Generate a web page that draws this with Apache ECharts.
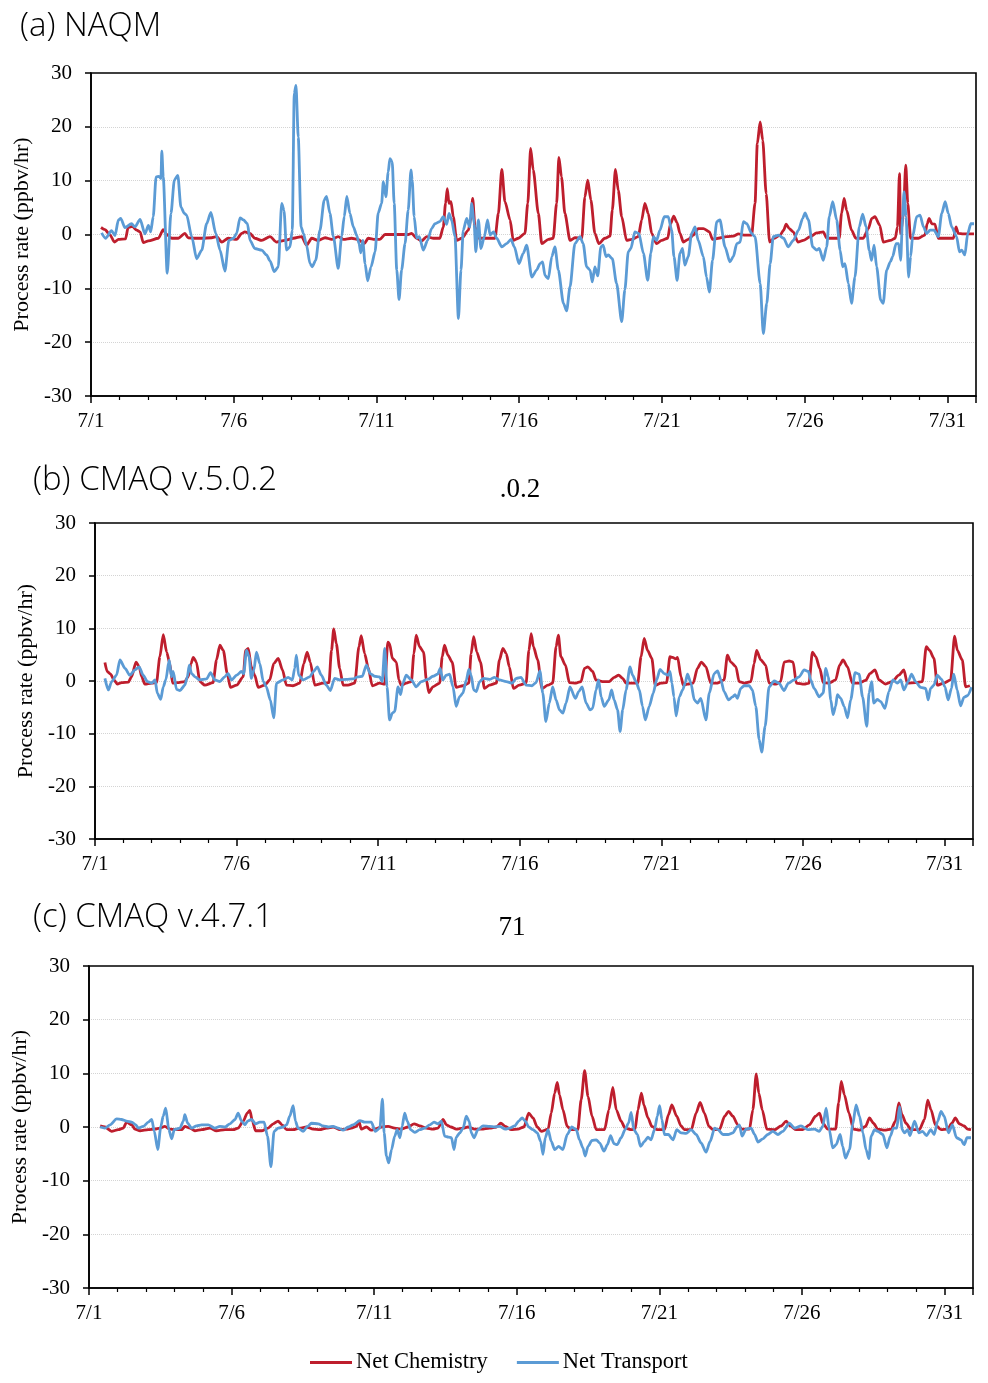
<!DOCTYPE html>
<html>
<head>
<meta charset="utf-8">
<script src="https://cdn.jsdelivr.net/npm/echarts@6/dist/echarts.min.js"></script>
<style>
html,body{margin:0;padding:0;background:#fff;}
#chart{width:988px;height:1383px;}
</style>
</head>
<body>
<div id="chart"></div>
<script>
// x values are days since 7/1 00:00
var xTickDays = [0, 5, 10, 15, 20, 25, 30];
var xTickLabels = ['7/1', '7/6', '7/11', '7/16', '7/21', '7/26', '7/31'];
var yTicks = [-30, -20, -10, 0, 10, 20, 30];
var panelTitles = ['(a) NAQM', '(b) CMAQ v.5.0.2', '(c) CMAQ v.4.7.1'];
var strayTexts = ['.0.2', '71'];
var seriesNames = ['Net Chemistry', 'Net Transport'];
var yAxisTitle = 'Process rate (ppbv/hr)';

var naqmChem = [[0.35,1.3],[0.49,0.9],[0.67,-0.1],[0.82,-1.4],[0.96,-0.9],[1.21,-0.8],[1.30,1.3],[1.45,1.5],[1.60,0.8],[1.72,0.5],[1.83,-1.5],[2.01,-1.2],[2.36,-0.7],[2.53,0.9],[2.65,0],[2.83,-0.7],[3.06,-0.7],[3.29,0.2],[3.40,-0.6],[3.64,-0.7],[3.88,-0.7],[4.23,-0.6],[4.40,-0.4],[4.58,-1.4],[4.81,-0.7],[5.10,-0.9],[5.28,0.2],[5.39,0.5],[5.57,0.2],[5.74,-0.7],[5.98,-1.1],[6.27,-0.4],[6.50,-1.4],[6.79,-1.1],[7.09,-0.7],[7.38,-0.4],[7.55,-2.0],[7.73,-0.7],[7.96,-1.1],[8.20,-0.6],[8.43,-0.9],[8.66,-0.4],[8.84,-0.9],[9.13,-0.7],[9.36,-0.9],[9.57,-1.7],[9.71,-0.7],[9.95,-0.9],[10.12,-0.9],[10.30,0],[11.11,0],[11.23,0.2],[11.41,-0.7],[11.58,-1.2],[11.76,-0.4],[12.00,-0.7],[12.22,-0.7],[12.34,1.4],[12.42,5.8],[12.48,8.5],[12.54,5.8],[12.61,6.1],[12.69,3.3],[12.81,-1.1],[12.99,-0.7],[13.22,0.8],[13.30,2.7],[13.37,6.7],[13.45,1.4],[13.59,-0.7],[13.80,-0.7],[14.15,-0.7],[14.27,3.9],[14.39,12.1],[14.50,6.1],[14.68,2.7],[14.79,-1.1],[14.97,-0.7],[15.20,0.2],[15.30,5.8],[15.40,16.0],[15.49,12.0],[15.67,3.9],[15.79,-1.7],[16.02,-0.9],[16.19,-0.7],[16.31,5.8],[16.39,14.3],[16.48,10.7],[16.60,3.9],[16.78,-1.1],[16.95,-0.6],[17.19,-0.7],[17.30,7.0],[17.40,10.1],[17.51,6.4],[17.65,0.2],[17.79,-1.7],[18.00,-0.7],[18.18,-0.3],[18.26,4.5],[18.37,12.1],[18.47,8.2],[18.59,3.3],[18.76,-1.1],[18.94,-0.9],[19.17,-0.4],[19.29,2.7],[19.40,5.8],[19.52,3.9],[19.64,0.2],[19.81,-1.7],[19.99,-1.1],[20.20,-0.7],[20.30,2.0],[20.41,3.4],[20.53,2.2],[20.63,0.2],[20.75,-1.4],[20.92,-0.9],[21.10,-0.1],[21.27,1.1],[21.45,1.1],[21.66,0.5],[21.77,-0.9],[21.97,-0.7],[22.27,-0.4],[22.50,-0.3],[22.68,0.1],[22.87,-0.1],[23.14,-0.1],[23.26,5.8],[23.34,16.9],[23.44,20.9],[23.53,17.5],[23.65,7.6],[23.77,-1.4],[23.93,-0.7],[24.14,-0.1],[24.26,0.8],[24.35,1.9],[24.46,1.1],[24.60,0.5],[24.76,-1.4],[24.95,-1.1],[25.19,-0.4],[25.42,0.3],[25.65,0.5],[25.77,-0.7],[26.00,-0.7],[26.21,-0.7],[26.29,3.9],[26.38,6.7],[26.47,4.5],[26.64,0.8],[26.79,-0.7],[27.05,-0.7],[27.23,1.1],[27.35,3.0],[27.46,3.3],[27.63,1.7],[27.75,-1.4],[28.00,-1.1],[28.17,-0.7],[28.25,1.4],[28.32,11.3],[28.36,0.2],[28.45,3.3],[28.54,12.9],[28.61,5.8],[28.71,-0.7],[28.98,-0.7],[29.21,-0.1],[29.29,2.0],[29.36,3.0],[29.45,2.0],[29.56,1.9],[29.68,-0.7],[29.97,-0.7],[30.21,-0.7],[30.30,1.4],[30.38,0.2],[30.55,0.1],[30.93,0.1]];

var naqmTrans = [[0.37,0.3],[0.51,-0.7],[0.72,0.7],[0.84,-0.2],[0.96,2.7],[1.04,3.0],[1.19,1.3],[1.42,2.0],[1.54,1.4],[1.72,2.8],[1.89,0.1],[2.01,1.7],[2.09,0.5],[2.18,3.3],[2.28,10.7],[2.38,10.8],[2.45,10.4],[2.48,15.5],[2.53,10.7],[2.67,-7.2],[2.80,3.9],[2.92,10.1],[3.04,11.0],[3.15,5.1],[3.27,3.9],[3.35,3.6],[3.53,-0.4],[3.70,-4.5],[3.88,-2.9],[4.05,2.0],[4.20,4.1],[4.37,0.2],[4.52,-2.9],[4.69,-6.8],[4.83,-1.1],[4.99,-0.7],[5.10,0.2],[5.22,3.1],[5.34,2.7],[5.48,2.0],[5.57,-1.1],[5.74,-2.6],[5.98,-2.9],[6.15,-3.8],[6.27,-4.9],[6.42,-6.9],[6.56,-6.0],[6.68,5.8],[6.76,4.5],[6.85,-2.9],[6.97,-2.3],[7.05,0.8],[7.12,26.2],[7.18,27.7],[7.26,18.1],[7.36,1.4],[7.44,0.2],[7.55,-2.0],[7.67,-5.4],[7.75,-6.0],[7.87,-4.8],[8.02,0.8],[8.17,6.4],[8.25,7.1],[8.37,3.9],[8.49,-0.4],[8.66,-6.3],[8.78,-0.4],[8.87,3.3],[8.96,7.1],[9.07,3.9],[9.19,1.4],[9.31,-0.2],[9.39,-1.7],[9.45,-3.4],[9.52,-1.1],[9.60,-5.4],[9.69,-8.6],[9.81,-6.0],[9.95,-3.2],[10.06,4.0],[10.18,5.8],[10.24,9.8],[10.33,7.0],[10.41,11.6],[10.47,14.1],[10.55,13.5],[10.62,5.8],[10.71,-6.6],[10.79,-12.1],[10.88,-6.6],[11.00,-1.7],[11.11,4.5],[11.21,12.0],[11.25,10.1],[11.32,3.3],[11.41,-0.7],[11.50,-0.4],[11.64,-2.9],[11.79,-1.1],[11.93,1.1],[12.05,2.0],[12.22,2.4],[12.34,3.3],[12.46,1.9],[12.54,3.9],[12.63,2.7],[12.75,-0.4],[12.87,-15.6],[12.96,-6.6],[13.04,0.8],[13.16,3.0],[13.26,1.4],[13.34,5.8],[13.42,2.0],[13.48,-3.2],[13.57,2.7],[13.66,-2.6],[13.78,-0.4],[13.89,2.7],[13.98,-0.1],[14.10,0.5],[14.21,-0.7],[14.39,-2.3],[14.56,-1.7],[14.71,-0.9],[14.83,-2.3],[14.99,-5.4],[15.14,-3.5],[15.26,-2.0],[15.44,-7.9],[15.61,-6.6],[15.73,-5.4],[15.82,-5.1],[15.90,-7.6],[16.02,-8.2],[16.14,-4.1],[16.25,-2.3],[16.37,-6.6],[16.55,-12.8],[16.66,-14.2],[16.78,-9.7],[16.95,-1.7],[17.13,-0.4],[17.24,-1.7],[17.36,-6.0],[17.48,-6.6],[17.56,-8.8],[17.65,-6.0],[17.75,-7.7],[17.86,-2.3],[17.94,-2.0],[18.04,-4.1],[18.12,-3.8],[18.26,-4.5],[18.41,-9.1],[18.59,-16.2],[18.70,-10.3],[18.82,-3.2],[18.91,-2.6],[19.05,0.5],[19.19,0.2],[19.35,-3.5],[19.50,-8.5],[19.61,-3.5],[19.70,-0.4],[19.81,-1.1],[19.93,0.8],[20.08,3.3],[20.22,3.3],[20.34,0.8],[20.42,-4.1],[20.53,-8.5],[20.63,-3.5],[20.72,-2.6],[20.80,-5.7],[20.92,-4.1],[21.04,0.2],[21.16,1.4],[21.27,-1.1],[21.45,-4.1],[21.56,-7.9],[21.66,-10.7],[21.77,-4.8],[21.92,2.4],[22.03,2.7],[22.21,-2.3],[22.38,-5.1],[22.50,-4.1],[22.62,-1.7],[22.74,-1.4],[22.85,2.4],[22.97,2.0],[23.14,0.2],[23.26,-0.4],[23.44,-9.1],[23.55,-18.4],[23.67,-12.8],[23.79,-5.4],[23.90,-0.4],[24.08,-0.1],[24.26,-0.7],[24.42,-2.3],[24.60,-1.1],[24.78,0.8],[24.93,3.0],[25.01,4.0],[25.13,2.7],[25.28,-2.3],[25.42,-2.9],[25.51,-2.6],[25.65,-4.8],[25.77,-2.3],[25.86,3.3],[25.98,6.1],[26.12,2.7],[26.24,-2.9],[26.33,-6.0],[26.41,-5.4],[26.53,-9.1],[26.64,-12.8],[26.76,-7.9],[26.91,1.4],[27.03,3.8],[27.15,1.4],[27.26,-2.9],[27.34,-4.8],[27.43,-2.0],[27.52,-6.0],[27.66,-12.2],[27.75,-12.8],[27.87,-6.6],[28.00,-5.1],[28.08,-4.1],[28.20,-1.7],[28.29,-1.7],[28.36,-4.8],[28.43,3.3],[28.48,7.9],[28.55,3.3],[28.64,-7.9],[28.71,-4.1],[28.78,-0.4],[28.92,3.3],[29.04,3.6],[29.16,1.4],[29.27,0.2],[29.39,0.8],[29.53,0.8],[29.68,-0.4],[29.80,3.9],[29.92,6.1],[30.03,3.9],[30.15,1.4],[30.32,-0.4],[30.42,-3.2],[30.50,-2.9],[30.61,-3.8],[30.71,0.2],[30.82,2.0],[30.93,2.0]];

var cmaq502Chem = [[0.35,3.5],[0.43,1.8],[0.55,1.3],[0.67,0.2],[0.79,-0.6],[0.94,-0.3],[1.18,-0.2],[1.29,0.8],[1.45,3.6],[1.56,2.7],[1.65,0.8],[1.76,-0.6],[2.00,-0.4],[2.17,-0.3],[2.29,4.6],[2.41,8.8],[2.53,5.5],[2.64,3.3],[2.74,-0.4],[2.90,-0.3],[3.17,-0.1],[3.29,0.8],[3.39,3.3],[3.47,4.5],[3.58,3.6],[3.70,-0.1],[3.88,-0.8],[4.17,-0.3],[4.29,4.0],[4.41,6.8],[4.53,5.8],[4.67,1.4],[4.78,-1.2],[5.00,-0.8],[5.23,0.8],[5.32,5.8],[5.41,6.2],[5.52,2.7],[5.64,1.1],[5.76,-1.2],[5.99,-0.8],[6.17,0.2],[6.31,3.3],[6.47,4.3],[6.62,2.1],[6.76,-0.8],[6.99,-0.9],[7.23,-0.4],[7.37,3.3],[7.49,5.5],[7.60,3.6],[7.76,-0.8],[8.05,-0.4],[8.26,-0.3],[8.35,5.8],[8.43,9.9],[8.52,7.1],[8.64,2.4],[8.76,-0.8],[8.93,-0.8],[9.17,-0.4],[9.32,6.5],[9.40,8.6],[9.52,5.2],[9.64,2.7],[9.79,-0.9],[10.05,-0.4],[10.23,-0.6],[10.34,7.4],[10.40,7.1],[10.50,4.3],[10.64,3.6],[10.73,0.2],[10.81,-0.8],[10.99,-0.4],[11.17,-0.1],[11.26,5.2],[11.34,8.7],[11.46,6.5],[11.60,5.5],[11.70,0.2],[11.79,-2.2],[11.93,-1.1],[12.17,-0.4],[12.26,4.6],[12.34,6.8],[12.46,4.9],[12.61,3.6],[12.75,-1.2],[12.99,-0.9],[13.20,-0.4],[13.28,5.2],[13.37,8.4],[13.48,5.5],[13.61,3.6],[13.75,-1.4],[13.93,-0.8],[14.17,-0.4],[14.28,4.0],[14.40,6.2],[14.52,5.2],[14.63,2.7],[14.77,-1.4],[14.98,-0.8],[15.22,-0.4],[15.32,5.8],[15.40,9.0],[15.48,6.5],[15.63,4.0],[15.78,-1.4],[15.99,-0.8],[16.16,-0.4],[16.28,6.5],[16.36,8.7],[16.45,4.6],[16.61,3.0],[16.75,-0.3],[16.98,-0.4],[17.16,-0.1],[17.28,2.4],[17.40,2.7],[17.57,1.8],[17.69,0.2],[17.92,-0.1],[18.16,-0.1],[18.33,0.7],[18.49,1.1],[18.63,0.5],[18.75,-0.4],[18.98,-0.4],[19.16,-0.4],[19.28,4.6],[19.39,8.1],[19.51,5.8],[19.66,4.3],[19.78,-0.8],[19.98,-0.4],[20.18,-0.3],[20.30,4.6],[20.39,4.5],[20.51,4.2],[20.57,4.5],[20.69,0.8],[20.77,-0.8],[20.92,-0.6],[21.12,-0.4],[21.27,2.4],[21.41,3.6],[21.57,2.7],[21.74,-0.4],[21.98,-0.4],[22.21,0.2],[22.33,4.9],[22.45,3.6],[22.63,2.7],[22.74,-0.1],[22.92,-0.4],[23.16,-0.1],[23.27,3.3],[23.36,5.8],[23.51,4.0],[23.68,3.0],[23.80,-0.4],[24.04,-0.6],[24.21,-0.1],[24.33,3.6],[24.51,3.8],[24.65,3.6],[24.76,-0.4],[25.04,-0.6],[25.21,-0.4],[25.33,5.5],[25.45,4.6],[25.59,2.4],[25.71,-0.3],[25.92,-0.4],[26.15,0.2],[26.29,3.0],[26.41,4.0],[26.57,2.7],[26.74,-0.4],[26.98,-0.4],[27.21,0.1],[27.36,1.4],[27.54,2.1],[27.68,0.2],[27.91,-0.6],[28.15,-0.1],[28.38,1.1],[28.56,2.1],[28.68,-0.4],[28.97,-0.3],[29.21,-0.1],[29.35,6.5],[29.47,5.8],[29.62,4.3],[29.74,-0.8],[29.97,-0.4],[30.21,0.2],[30.35,8.5],[30.45,5.8],[30.62,4.0],[30.74,-1.1],[30.89,-0.9]];

var cmaq502Trans = [[0.35,0.5],[0.47,-1.7],[0.59,-0.1],[0.76,1.1],[0.88,4.0],[1.06,2.4],[1.23,1.1],[1.41,2.1],[1.56,2.7],[1.70,1.1],[1.85,-0.1],[2.00,-0.4],[2.12,0.2],[2.20,-2.3],[2.32,-3.5],[2.41,-1.1],[2.50,0.2],[2.62,4.0],[2.70,0.8],[2.76,1.8],[2.88,-1.6],[3.00,-1.8],[3.17,-0.8],[3.26,0.8],[3.33,3.0],[3.41,1.4],[3.53,0.8],[3.70,0.2],[3.94,0.4],[4.08,1.6],[4.23,0.2],[4.41,-0.1],[4.58,0.8],[4.70,1.4],[4.82,0.2],[5.00,1.1],[5.17,1.8],[5.25,1.4],[5.35,5.8],[5.44,4.6],[5.52,0.5],[5.61,2.1],[5.70,5.5],[5.82,3.3],[5.94,-0.1],[6.05,-1.1],[6.19,-3.6],[6.31,-7.0],[6.41,-0.4],[6.64,0.2],[6.82,0.7],[6.97,0.2],[7.05,2.4],[7.11,4.9],[7.19,1.1],[7.35,0.2],[7.58,0.8],[7.72,1.8],[7.85,2.7],[7.99,1.1],[8.17,-0.8],[8.31,-1.8],[8.46,0.5],[8.64,0.2],[8.87,0.3],[9.11,0.4],[9.28,0.8],[9.44,0.9],[9.58,3.0],[9.72,1.4],[9.87,0.9],[10.05,0.8],[10.14,-0.1],[10.23,6.2],[10.31,-1.1],[10.40,-7.4],[10.50,-6.1],[10.58,-5.8],[10.70,-1.1],[10.79,-2.6],[10.87,-0.4],[10.99,1.1],[11.17,0.2],[11.34,-1.1],[11.52,-0.1],[11.75,0.3],[11.93,0.9],[12.10,1.3],[12.19,2.4],[12.28,0.2],[12.40,1.1],[12.52,1.3],[12.64,-1.1],[12.75,-4.8],[12.87,-3.0],[12.99,-2.3],[13.11,0.2],[13.20,2.2],[13.28,1.1],[13.37,-1.7],[13.46,-2.0],[13.58,-0.1],[13.72,0.5],[13.93,0.3],[14.11,0.7],[14.28,0.2],[14.52,-0.1],[14.73,-0.4],[14.87,0.5],[15.04,0.7],[15.22,-0.8],[15.43,-0.9],[15.57,-0.3],[15.71,1.9],[15.81,-2.3],[15.92,-7.7],[16.04,-4.2],[16.16,-1.1],[16.28,-3.6],[16.40,-5.5],[16.52,-6.1],[16.63,-4.2],[16.77,-1.1],[16.96,-3.3],[17.08,-2.0],[17.20,-1.1],[17.34,-4.2],[17.48,-5.5],[17.57,-5.2],[17.69,-1.7],[17.78,0.2],[17.87,-3.0],[17.98,-4.8],[18.14,-3.6],[18.24,-1.7],[18.33,-3.6],[18.45,-5.5],[18.54,-9.6],[18.63,-5.5],[18.75,-1.7],[18.89,2.7],[18.98,1.1],[19.10,-0.1],[19.22,-1.7],[19.33,-4.8],[19.43,-7.4],[19.57,-4.8],[19.71,-2.3],[19.83,0.2],[19.95,2.2],[20.10,1.4],[20.25,1.1],[20.30,1.8],[20.37,-0.4],[20.44,-3.0],[20.52,-6.6],[20.63,-3.0],[20.75,-1.7],[20.84,-0.3],[20.92,1.3],[21.04,-0.4],[21.16,-3.6],[21.27,-4.2],[21.39,-3.3],[21.57,-7.4],[21.69,-2.3],[21.86,1.4],[21.98,1.9],[22.10,0.2],[22.21,-2.0],[22.37,-3.6],[22.51,-3.0],[22.60,-2.6],[22.68,-3.3],[22.80,-1.4],[22.92,-0.9],[23.10,-0.9],[23.21,-1.7],[23.33,-4.8],[23.45,-11.1],[23.54,-13.5],[23.66,-8.6],[23.80,-1.1],[23.98,0],[24.15,-0.4],[24.33,-1.8],[24.48,-0.4],[24.68,0.2],[24.86,0.8],[25.04,2.1],[25.19,1.8],[25.27,0.2],[25.39,-1.4],[25.57,-3.0],[25.71,-2.3],[25.80,2.4],[25.89,0.8],[25.98,-3.6],[26.06,-6.4],[26.15,-4.8],[26.21,-2.6],[26.33,-3.3],[26.45,-4.8],[26.57,-7.0],[26.68,-3.6],[26.84,1.6],[26.98,1.3],[27.10,-3.0],[27.25,-8.6],[27.33,-2.3],[27.42,-0.1],[27.50,-4.2],[27.62,-3.5],[27.74,-3.9],[27.89,-5.2],[28.03,-2.0],[28.17,0.2],[28.33,-0.4],[28.45,0.2],[28.56,-1.7],[28.71,-0.1],[28.83,1.3],[28.97,-0.1],[29.15,-1.2],[29.33,-1.4],[29.42,-3.6],[29.50,-1.4],[29.62,-0.8],[29.74,1.1],[29.89,0.3],[30.01,-1.1],[30.12,-3.6],[30.24,-1.4],[30.32,1.3],[30.44,-1.7],[30.56,-4.7],[30.68,-3.1],[30.80,-2.8],[30.95,-1.2]];

var cmaq471Chem = [[0.39,0.2],[0.56,0],[0.79,-0.8],[1.03,-0.5],[1.20,-0.2],[1.32,0.9],[1.50,0.4],[1.61,-0.4],[1.79,-0.7],[2.08,-0.5],[2.31,-0.4],[2.49,-0.2],[2.66,0.1],[2.84,-0.4],[3.01,-0.5],[3.25,-0.5],[3.36,0.1],[3.54,-0.2],[3.71,-0.7],[3.95,-0.5],[4.24,-0.2],[4.47,-0.7],[4.77,-0.5],[5.06,-0.5],[5.23,-0.2],[5.41,1.1],[5.55,2.6],[5.64,3.1],[5.73,1.1],[5.84,-0.7],[6.05,-0.7],[6.28,-0.2],[6.46,0.6],[6.63,1.1],[6.77,0.4],[6.93,-0.5],[7.16,-0.5],[7.39,-0.2],[7.63,0],[7.86,-0.4],[8.09,-0.5],[8.33,-0.2],[8.56,0],[8.80,-0.5],[9.03,-0.4],[9.20,-0.2],[9.38,0.1],[9.46,1.1],[9.55,-0.4],[9.73,0],[9.90,-0.6],[10.02,-0.4],[10.26,0],[10.49,0.1],[10.72,-0.2],[10.95,-0.4],[11.19,0],[11.40,0.6],[11.60,0.2],[11.83,-0.2],[12.06,-0.4],[12.24,-0.2],[12.42,1.4],[12.53,0.4],[12.69,0],[12.88,-0.4],[13.12,-0.2],[13.29,0],[13.53,-0.4],[13.76,-0.4],[14.05,-0.2],[14.29,0],[14.44,0.7],[14.60,0.1],[14.81,-0.5],[15.04,-0.4],[15.25,0],[15.42,2.6],[15.57,1.7],[15.72,0],[15.86,-0.8],[16.10,-0.4],[16.21,2.6],[16.33,6.3],[16.42,8.3],[16.50,6.0],[16.62,3.2],[16.77,0.1],[16.91,-0.5],[17.14,-0.5],[17.26,5.1],[17.38,10.5],[17.50,5.7],[17.64,2.0],[17.79,-0.5],[18.08,-0.5],[18.23,3.2],[18.37,7.4],[18.49,3.2],[18.66,1.1],[18.80,-0.2],[19.02,-0.5],[19.15,-0.4],[19.25,3.2],[19.37,6.3],[19.46,4.1],[19.60,1.7],[19.74,0.1],[19.93,-0.5],[20.18,-0.5],[20.32,2.3],[20.44,4.1],[20.61,2.0],[20.76,0.2],[20.88,-0.5],[21.12,-0.5],[21.29,2.6],[21.43,4.6],[21.58,2.6],[21.74,0.1],[21.88,-0.5],[22.11,-0.5],[22.29,2.0],[22.43,2.9],[22.58,2.0],[22.75,0.4],[22.90,-0.4],[23.16,-0.4],[23.28,3.2],[23.40,9.9],[23.49,6.3],[23.61,3.2],[23.77,-0.4],[24.04,-0.5],[24.27,0.2],[24.45,1.1],[24.59,0.2],[24.80,-0.5],[25.03,-0.5],[25.26,0.4],[25.48,2.0],[25.62,2.6],[25.73,0.7],[25.91,-0.4],[26.18,-0.4],[26.29,4.5],[26.38,8.5],[26.49,6.0],[26.65,2.6],[26.81,-0.4],[27.02,-0.6],[27.23,0.1],[27.37,1.7],[27.51,0.7],[27.66,-0.4],[27.90,-0.6],[28.13,-0.4],[28.28,1.1],[28.40,4.5],[28.51,2.3],[28.65,0.7],[28.83,-0.5],[29.12,-0.5],[29.30,1.4],[29.41,5.0],[29.53,3.2],[29.68,0.4],[29.88,-0.5],[30.11,-0.4],[30.26,0.7],[30.38,1.7],[30.52,0.6],[30.69,0.2],[30.81,-0.4],[30.93,-0.5]];

var cmaq471Trans = [[0.39,0],[0.56,-0.2],[0.74,0.4],[0.97,1.5],[1.14,1.4],[1.32,1.1],[1.50,0.9],[1.64,0.4],[1.73,-0.2],[1.90,0.1],[2.08,0.9],[2.20,1.4],[2.29,-0.8],[2.41,-4.2],[2.52,0.1],[2.60,2.0],[2.69,3.5],[2.80,-0.5],[2.90,-2.2],[2.99,-0.5],[3.19,-0.2],[3.31,1.1],[3.36,2.3],[3.46,0.7],[3.60,-0.2],[3.77,0.2],[3.95,0.4],[4.18,0.4],[4.41,-0.2],[4.59,0.1],[4.77,0],[4.94,0.6],[5.12,1.4],[5.23,2.6],[5.35,1.1],[5.47,0.4],[5.56,1.1],[5.70,1.4],[5.84,0.6],[5.99,0.9],[6.14,0.9],[6.26,-1.7],[6.38,-7.4],[6.49,-0.8],[6.63,-0.2],[6.81,0],[6.93,0.4],[7.04,2.0],[7.16,4.0],[7.24,1.1],[7.33,-0.2],[7.51,-0.8],[7.66,0.1],[7.80,0.7],[8.04,0.6],[8.21,0.2],[8.39,0],[8.56,0.1],[8.74,-0.2],[8.91,-0.6],[9.09,0],[9.26,0.4],[9.50,1.2],[9.67,0.9],[9.90,0.9],[10.04,-0.8],[10.20,-0.2],[10.29,5.2],[10.35,-1.1],[10.43,-5.4],[10.51,-6.7],[10.61,-4.2],[10.72,-1.7],[10.81,-0.5],[10.90,-2.0],[10.98,0.1],[11.07,2.6],[11.16,1.1],[11.28,-0.5],[11.42,-1.0],[11.60,-0.5],[11.77,-0.2],[11.95,0.4],[12.10,0.9],[12.24,0.6],[12.36,1.1],[12.47,-1.7],[12.61,-1.9],[12.71,-2.0],[12.80,-4.2],[12.88,-1.9],[13.00,-1.1],[13.12,-0.2],[13.23,2.0],[13.33,1.1],[13.41,-1.1],[13.50,-2.0],[13.64,-0.5],[13.82,0.2],[14.05,0.1],[14.23,0],[14.40,0.1],[14.60,-0.4],[14.75,-0.2],[14.93,0.2],[15.07,1.1],[15.19,1.7],[15.30,1.1],[15.42,0],[15.57,-0.5],[15.72,-1.1],[15.84,-2.7],[15.92,-5.1],[16.00,-2.0],[16.10,-0.5],[16.21,-2.7],[16.33,-4.2],[16.47,-3.6],[16.62,-4.2],[16.77,-1.4],[16.93,0],[17.09,-0.5],[17.20,-2.4],[17.32,-3.9],[17.40,-5.4],[17.50,-3.6],[17.64,-2.5],[17.79,-2.4],[17.91,-3.0],[18.06,-4.5],[18.18,-3.3],[18.29,-1.6],[18.41,-3.1],[18.52,-3.3],[18.66,-2.0],[18.80,-0.5],[18.92,0.7],[19.01,2.7],[19.11,-0.5],[19.23,-1.4],[19.34,-3.6],[19.48,-2.7],[19.60,-1.9],[19.71,-2.4],[19.83,-0.5],[19.93,2.0],[20.01,4.0],[20.09,1.4],[20.18,-1.4],[20.32,-1.4],[20.48,-2.4],[20.61,-0.5],[20.76,-1.1],[20.94,-1.2],[21.12,-0.5],[21.29,-1.4],[21.47,-3.0],[21.64,-4.7],[21.78,-2.7],[21.94,-0.2],[22.06,-0.5],[22.23,-1.4],[22.41,-1.4],[22.58,-1.1],[22.72,0],[22.81,0.4],[22.90,-1.7],[23.04,-0.4],[23.22,-0.2],[23.34,-1.4],[23.46,-2.8],[23.63,-2.2],[23.80,-1.4],[23.98,-0.8],[24.16,-1.4],[24.33,-0.8],[24.56,0.7],[24.74,-0.2],[24.97,0.2],[25.21,-0.5],[25.44,-0.4],[25.61,-0.8],[25.73,0.1],[25.85,3.5],[25.96,-0.5],[26.08,-3.9],[26.20,-3.3],[26.34,-1.4],[26.43,-3.6],[26.53,-5.8],[26.67,-4.2],[26.78,0.4],[26.90,4.1],[27.02,2.0],[27.14,-1.1],[27.25,-4.2],[27.35,-5.9],[27.43,-1.7],[27.55,-0.5],[27.66,-0.8],[27.84,-1.4],[27.98,-3.9],[28.10,-1.7],[28.21,-0.2],[28.33,-0.2],[28.42,3.8],[28.52,-0.5],[28.60,-1.1],[28.71,-0.5],[28.79,-1.6],[28.95,1.1],[29.10,-1.1],[29.23,-0.8],[29.37,-1.6],[29.52,-0.5],[29.64,-1.4],[29.76,1.1],[29.88,2.9],[29.99,2.0],[30.14,-1.1],[30.28,0.4],[30.42,-2.0],[30.58,-2.4],[30.69,-3.3],[30.79,-2.0],[30.93,-2.0]];

var chemSets = [naqmChem, cmaq502Chem, cmaq471Chem];
var transSets = [naqmTrans, cmaq502Trans, cmaq471Trans];

var RED = '#BE1E2D';
var BLUE = '#5B9BD5';
var SERIF = '"Liberation Serif", "Times New Roman", serif';
var SANS = '"Open Sans", "Noto Sans", sans-serif';

var grids = [
  {left: 91, right: 12, top: 73, height: 323},
  {left: 95, right: 15, top: 523, height: 316},
  {left: 89, right: 15, top: 966, height: 322}
];
var nameGaps = [57, 56, 58];

function xLabel(v) {
  var i = xTickDays.indexOf(v);
  return i >= 0 ? xTickLabels[i] : '';
}

var option = {
  animation: false,
  backgroundColor: '#fff',
  grid: grids.map(function (g) {
    return Object.assign({show: true, borderColor: '#000', borderWidth: 1.6, backgroundColor: 'transparent', z: 5}, g);
  }),
  xAxis: grids.map(function (g, i) {
    return {
      type: 'value', gridIndex: i, min: 0, max: 31, interval: 5,
      axisLine: {show: true, onZero: false, lineStyle: {color: '#000', width: 1.6}},
      axisTick: {show: true, inside: false, length: 7, lineStyle: {color: '#000', width: 1.5}},
      minorTick: {show: true, splitNumber: 5, length: 4, lineStyle: {color: '#000', width: 1.2}},
      axisLabel: {formatter: xLabel, color: '#000', fontFamily: SERIF, fontSize: 21, margin: 15, showMaxLabel: false},
      splitLine: {show: false}, minorSplitLine: {show: false}
    };
  }),
  yAxis: grids.map(function (g, i) {
    return {
      type: 'value', gridIndex: i, min: yTicks[0], max: yTicks[yTicks.length - 1], interval: 10,
      name: yAxisTitle, nameLocation: 'middle', nameGap: nameGaps[i],
      nameTextStyle: {color: '#000', fontFamily: SERIF, fontSize: 22},
      axisLine: {show: true, lineStyle: {color: '#000', width: 1.6}},
      axisTick: {show: true, inside: false, length: 6, lineStyle: {color: '#000', width: 1.5}},
      axisLabel: {color: '#000', fontFamily: SERIF, fontSize: 21, margin: 19},
      splitLine: {show: true, showMinLine: false, showMaxLine: false, lineStyle: {color: '#d4d4d4', type: 'dotted', width: 1}}
    };
  }),
  legend: {
    data: seriesNames, left: 305, top: 1346, icon: 'rect', itemWidth: 42, itemHeight: 3, itemGap: 29,
    textStyle: {color: '#000', fontFamily: SERIF, fontSize: 22.5, padding: [0, 0, 0, -1]}
  },
  graphic: [
    {type: 'text', x: 20, y: 27, style: {text: panelTitles[0], font: '300 33px ' + SANS, fill: '#000', align: 'left', verticalAlign: 'middle'}},
    {type: 'text', x: 33, y: 481, style: {text: panelTitles[1], font: '300 33px ' + SANS, fill: '#000', align: 'left', verticalAlign: 'middle'}},
    {type: 'text', x: 33, y: 918, style: {text: panelTitles[2], font: '300 33px ' + SANS, fill: '#000', align: 'left', verticalAlign: 'middle'}},
    {type: 'text', x: 520, y: 490, style: {text: strayTexts[0], font: '27px ' + SERIF, fill: '#000', align: 'center', verticalAlign: 'middle'}},
    {type: 'text', x: 512, y: 928, style: {text: strayTexts[1], font: '27px ' + SERIF, fill: '#000', align: 'center', verticalAlign: 'middle'}}
  ],
  series: []
};

for (var i = 0; i < 3; i++) {
  option.series.push({
    name: seriesNames[0], type: 'line', xAxisIndex: i, yAxisIndex: i, data: chemSets[i],
    showSymbol: false, smooth: 0.25, smoothMonotone: 'x', color: RED,
    lineStyle: {color: RED, width: 2.8}, z: 2
  });
  option.series.push({
    name: seriesNames[1], type: 'line', xAxisIndex: i, yAxisIndex: i, data: transSets[i],
    showSymbol: false, smooth: 0.25, smoothMonotone: 'x', color: BLUE,
    lineStyle: {color: BLUE, width: 2.8}, z: 3
  });
}

var chart = echarts.init(document.getElementById('chart'), null, {renderer: 'canvas'});
chart.setOption(option);
</script>
</body>
</html>
